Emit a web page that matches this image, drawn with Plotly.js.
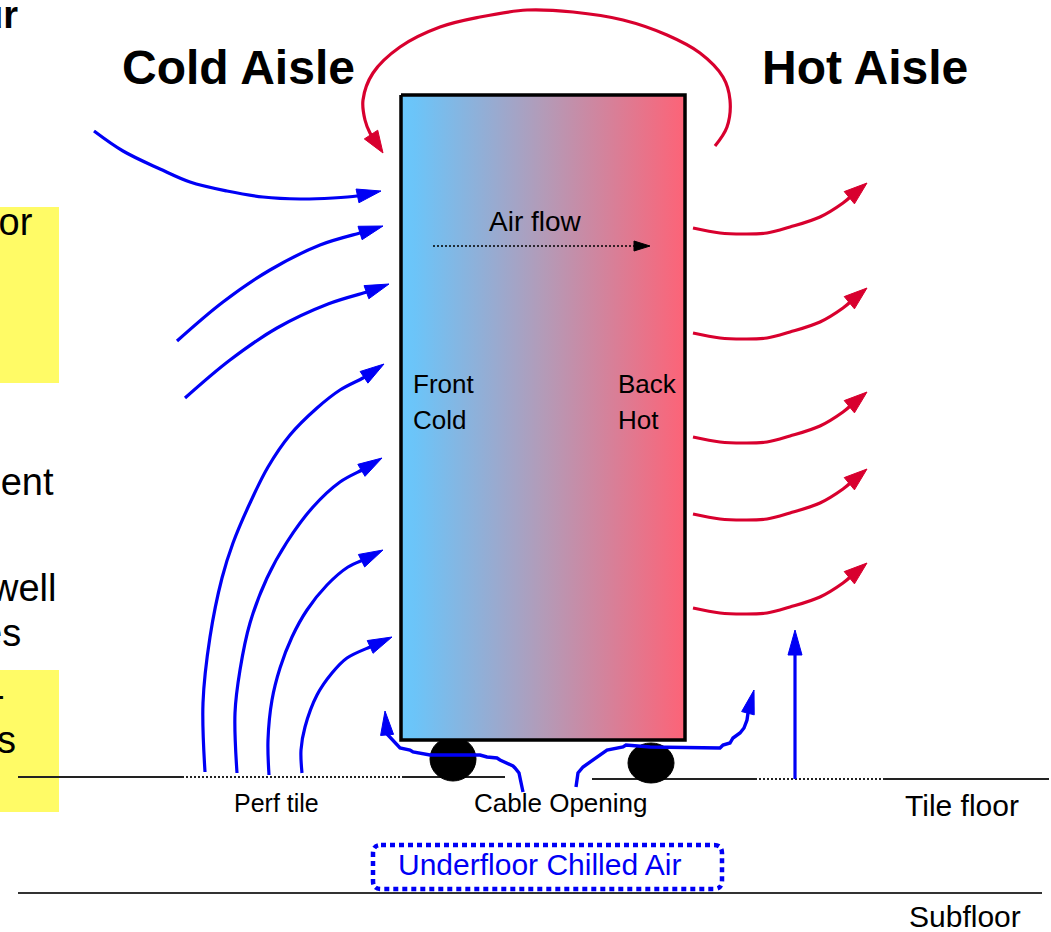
<!DOCTYPE html>
<html>
<head>
<meta charset="utf-8">
<script src="https://cdn.plot.ly/plotly-3.0.1.min.js"></script>
<style>html,body{margin:0;padding:0;background:#fff;}#chart{width:1051px;height:932px;}</style>
</head>
<body>
<div id="chart"></div>
<script>
// ---- Diagram data (diagram units = pixels, y grows downwards) ----
// Cold-aisle supply air paths (blue)
const coldA_x = [94,123,160,190,227,263,300,333,357,381];
const coldA_y = [131,151,169,182,191,197,199,198,196,191];
const coldB_x = [177,223,270,320,360,383];
const coldB_y = [341,302,270,245,233,226];
const coldC_x = [185,230,277,328,367,389];
const coldC_y = [398,360,328,304,292,284];
const coldD_x = [205,203,210,222,233,250,268,290,317,340,363,384];
const coldD_y = [772,703,637,578,543,503,467,435,408,390,378,364];
const coldE_x = [237,235,240,250,267,287,313,340,362,382];
const coldE_y = [773,713,670,623,578,542,507,482,470,458];
const coldF_x = [269,268,272,280,292,307,327,348,363,383];
const coldF_y = [775,740,700,668,637,610,585,567,560,550];
const coldG_x = [302,301,305,317,332,347,370,392];
const coldG_y = [773,750,727,695,673,658,647,637];
// Air escaping through the cable opening
const cableL_x = [523,521,519,515,513,500,497,487,480,460,430,413,410,400,397,393,387,385];
const cableL_y = [792,780,773,768,766,760,758,757,755,755,755,752,750,748,745,740,734,711];
const cableR_x = [576,577,578,583,590,597,600,607,623,626,650,720,723,730,733,740,744,747,748,754];
const cableR_y = [787,780,773,767,762,757,755,750,747,745,747,748,745,743,738,733,728,720,713,690];
// Perforated tile on the hot side
const ventX = [795,795];
const ventY = [779,630];
// Hot air recirculating over the rack (red)
const arcX = [715,727,730,723,700,667,623,573,527,480,440,400,373,363,365,370,383];
const arcY = [146,127,100,77,53,35,20,12,10,17,27,47,73,100,120,133,153];
// Hot exhaust arrows: common shape + start heights
const exhaustDX = [0,27,50,74,97,127,150,174];
const exhaustDY = [0,5,6,5,-1,-11,-25,-45];
const exhaustX0 = 693;
const exhaustY0 = [228,333,437,514,608];
// Internal air flow arrow
const airflowX = [433,650];
const airflowY = [246,246];
// Rack body
const rackX = [401,685,685,401,401];
const rackY = [95,95,740,740,95];
const wheels = [[453,759,23,22],[651,763,23,20]];

const BLUE = '#0000f5';
const RED = '#d8002e';
const FONT = 'Liberation Sans, Arial, Helvetica, sans-serif';

const traces = [];

function arrow(xs, ys, color, width, headLen, headHalf, shape, dash){
  const n = xs.length;
  const tx = xs[n-1], ty = ys[n-1];
  const px = xs[n-2], py = ys[n-2];
  let dx = tx-px, dy = ty-py;
  const d = Math.hypot(dx,dy); dx/=d; dy/=d;
  const bx = tx - dx*headLen, by = ty - dy*headLen;
  const lx = xs.slice(0,n-1), ly = ys.slice(0,n-1);
  // line stops inside the head
  lx.push(bx + dx*3); ly.push(by + dy*3);
  traces.push({type:'scatter', mode:'lines', x:lx, y:ly, hoverinfo:'skip',
    line:{color:color, width:width, shape:shape||'spline', smoothing:1, dash:dash||'solid'}});
  const nx = -dy, ny = dx;
  traces.push({type:'scatter', mode:'lines', fill:'toself', fillcolor:color, hoverinfo:'skip',
    x:[tx, bx+nx*headHalf, bx-nx*headHalf, tx],
    y:[ty, by+ny*headHalf, by-ny*headHalf, ty],
    line:{color:color, width:1}});
}

// rack with horizontal gradient
traces.push({type:'scatter', mode:'lines', x:rackX, y:rackY, fill:'toself', hoverinfo:'skip',
  fillgradient:{type:'horizontal', colorscale:[[0,'#69c7fc'],[0.05,'#6cc4f8'],[0.5,'#b39bb8'],[1,'#fd6377']]},
  line:{color:'#000', width:3.5}});

arrow(coldA_x, coldA_y, BLUE, 3.2, 24, 7);
arrow(coldB_x, coldB_y, BLUE, 3.2, 24, 7);
arrow(coldC_x, coldC_y, BLUE, 3.2, 24, 7);
arrow(coldD_x, coldD_y, BLUE, 3.2, 24, 7);
arrow(coldE_x, coldE_y, BLUE, 3.2, 24, 7);
arrow(coldF_x, coldF_y, BLUE, 3.2, 24, 7);
arrow(coldG_x, coldG_y, BLUE, 3.2, 24, 7);
arrow(cableL_x, cableL_y, BLUE, 3.4, 24, 6.5, 'linear');
arrow(cableR_x, cableR_y, BLUE, 3.4, 24, 6.5, 'linear');
arrow(ventX, ventY, BLUE, 3.2, 25, 7, 'linear');
arrow(arcX, arcY, RED, 3.2, 22, 8);
exhaustY0.forEach(function(y0){
  arrow(exhaustDX.map(function(v){return exhaustX0+v;}), exhaustDY.map(function(v){return y0+v;}), RED, 3.2, 23, 8);
});
arrow(airflowX, airflowY, '#000', 1.6, 16, 5, 'linear', '2px,2px');

// ---- Shapes ----
const shapes = [];
function hline(x0,x1,y,dash,w,col){
  shapes.push({type:'line', layer:'below', xref:'x', yref:'y', x0:x0, x1:x1, y0:y, y1:y,
    line:{color:col||'#222', width:w||2, dash:dash||'solid'}});
}
// yellow side notes (cut off at the left edge)
shapes.push({type:'rect', layer:'below', x0:-5, x1:59, y0:207, y1:383, fillcolor:'#fffb66', line:{width:0}});
shapes.push({type:'rect', layer:'below', x0:-5, x1:59, y0:670, y1:812, fillcolor:'#fffb66', line:{width:0}});
// tile floor
hline(18,182,777);
hline(182,403,777,'2px,2px',2);
hline(403,505,777);
hline(592,755,779);
hline(755,883,779,'2px,2px',2);
hline(883,1049,779);
// subfloor
hline(18,1042,893,'solid',2.2,'#333');
// wheels
wheels.forEach(function(w){
  shapes.push({type:'circle', layer:'below', x0:w[0]-w[2], x1:w[0]+w[2], y0:w[1]-w[3], y1:w[1]+w[3],
    fillcolor:'#000', line:{color:'#000', width:1}});
});
// underfloor dotted box with rounded corners
(function(){
  const x0=373, x1=722, y0=845, y1=889, r=8;
  const p = 'M '+(x0+r)+' '+y0+' L '+(x1-r)+' '+y0+' Q '+x1+' '+y0+' '+x1+' '+(y0+r)+
    ' L '+x1+' '+(y1-r)+' Q '+x1+' '+y1+' '+(x1-r)+' '+y1+
    ' L '+(x0+r)+' '+y1+' Q '+x0+' '+y1+' '+x0+' '+(y1-r)+
    ' L '+x0+' '+(y0+r)+' Q '+x0+' '+y0+' '+(x0+r)+' '+y0+' Z';
  shapes.push({type:'path', layer:'above', path:p, line:{color:BLUE, width:4.5, dash:'5px,4px'}});
})();

// ---- Text ----
const annotations = [];
function label(text, x, y, size, opt){
  opt = opt || {};
  annotations.push({text:text, x:x, y:y, xref:'x', yref:'y', showarrow:false,
    xanchor:opt.xa||'center', yanchor:'middle',
    font:{family:FONT, size:size, color:opt.color||'#000', weight:opt.bold?'bold':'normal'}});
}
label('<b>ur</b>', 19.5, 15, 38, {xa:'right'});
label('<b>Cold Aisle</b>', 238, 67, 48);
label('<b>Hot Aisle</b>', 865, 67, 48);
label('Air flow', 535, 221, 28);
label('Front', 411, 384, 26, {xa:'left'});
label('Cold', 411, 420, 26, {xa:'left'});
label('Back', 616, 384, 26, {xa:'left'});
label('Hot', 616, 420, 26, {xa:'left'});
label('Perf tile', 276, 803, 25);
label('Cable Opening', 560, 803, 26);
label('Tile floor', 962, 805, 30);
label('Subfloor', 965, 916, 30);
label('Underfloor Chilled Air', 539, 864, 30, {color:BLUE});
// fragments of side notes, cut by the left edge
label('for', 35, 222, 38, {xa:'right'});
label('ment', 56, 482, 38, {xa:'right'});
label('well', 58, 588, 38, {xa:'right'});
label('ces', 23, 633, 38, {xa:'right'});
label('-', 7, 695, 38, {xa:'right'});
label('s', 18, 740, 38, {xa:'right'});

const layout = {
  width:1051, height:932, autosize:false,
  margin:{l:0,r:0,t:0,b:0,pad:0},
  paper_bgcolor:'#fff', plot_bgcolor:'#fff',
  showlegend:false, hovermode:false,
  xaxis:{range:[0,1051], visible:false, fixedrange:true},
  yaxis:{range:[932,0], visible:false, fixedrange:true},
  shapes:shapes, annotations:annotations
};
Plotly.newPlot('chart', traces, layout, {staticPlot:true, displayModeBar:false});
</script>
</body>
</html>
